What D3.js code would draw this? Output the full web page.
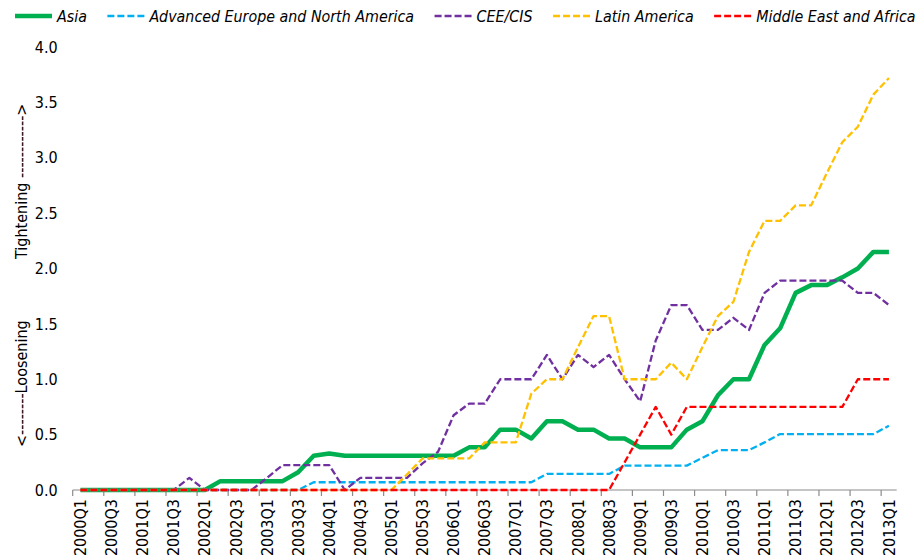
<!DOCTYPE html>
<html><head><meta charset="utf-8">
<script src="https://cdn.jsdelivr.net/npm/d3@7"></script>
<style>
body{margin:0;background:#fff}
svg{display:block}
text{font-family:"DejaVu Sans Condensed","DejaVu Sans",sans-serif;font-stretch:condensed;fill:#000}
</style>
</head><body>
<svg id="chart" width="918" height="559"></svg>
<script>
const categories = ["2000Q1","2000Q2","2000Q3","2000Q4","2001Q1","2001Q2","2001Q3","2001Q4",
"2002Q1","2002Q2","2002Q3","2002Q4","2003Q1","2003Q2","2003Q3","2003Q4",
"2004Q1","2004Q2","2004Q3","2004Q4","2005Q1","2005Q2","2005Q3","2005Q4",
"2006Q1","2006Q2","2006Q3","2006Q4","2007Q1","2007Q2","2007Q3","2007Q4",
"2008Q1","2008Q2","2008Q3","2008Q4","2009Q1","2009Q2","2009Q3","2009Q4",
"2010Q1","2010Q2","2010Q3","2010Q4","2011Q1","2011Q2","2011Q3","2011Q4",
"2012Q1","2012Q2","2012Q3","2012Q4","2013Q1"];

const asia = [0,0,0,0,0,0,0,0,0,
0.08,0.08,0.08,0.08,0.08,
0.16,0.31,0.33,
0.31,0.31,0.31,0.31,0.31,0.31,0.31,0.31,
0.385,0.385,0.545,0.545,0.465,0.62,0.62,0.545,0.545,0.465,0.465,
0.385,0.385,0.385,0.545,0.62,0.855,1.0,1.0,1.31,1.46,1.78,1.85,1.85,1.92,2.0,2.15,2.15];

const advanced = [0,0,0,0,0,0,0,0,0,0,0,0,0,0,0,
0.07,0.07,0.07,0.07,0.07,0.07,0.07,0.07,0.07,0.07,0.07,0.07,0.07,0.07,0.07,
0.145,0.145,0.145,0.145,0.145,
0.22,0.22,0.22,0.22,0.22,
0.29,0.36,0.36,0.36,0.43,
0.505,0.505,0.505,0.505,0.505,0.505,0.505,0.58];

const ceeCis = [0,0,0,0,0,0,0,0.11,0,0,0,0,0.11,
0.225,0.225,0.225,0.225,0,
0.11,0.11,0.11,0.11,
0.24,0.345,0.675,0.78,0.78,1.0,1.0,1.0,1.22,1.0,1.22,1.11,1.22,1.0,0.8,
1.35,1.67,1.67,1.445,1.445,1.555,1.445,1.78,
1.89,1.89,1.89,1.89,1.89,1.78,1.78,1.67];

const latinAmerica = [0,0,0,0,0,0,0,0,0,0,0,0,0,0,0,0,0,0,0,0,0,
0.14,0.285,0.285,0.285,0.285,0.43,0.43,0.43,
0.87,1.0,1.0,1.29,1.57,1.57,1.0,1.0,1.0,1.15,1.0,1.29,1.57,1.70,2.15,
2.43,2.43,2.57,2.57,2.86,3.14,3.28,3.57,3.72];

const middleEastAfrica = [0,0,0,0,0,0,0,0,0,0,0,0,0,0,0,0,0,0,0,0,
0,0,0,0,0,0,0,0,0,0,0,0,0,0,0,
0.25,0.5,0.75,0.5,
0.75,0.75,0.75,0.75,0.75,0.75,0.75,0.75,0.75,0.75,0.75,
1.0,1.0,1.0];

const seriesNames = ["Asia","Advanced Europe and North America","CEE/CIS","Latin America","Middle East and Africa"];
const seriesValues = [asia, advanced, ceeCis, latinAmerica, middleEastAfrica];
const seriesColors = ["#00B050","#00B0F0","#7030A0","#FFC000","#FF0000"];

const yTicks = [0,0.5,1.0,1.5,2.0,2.5,3.0,3.5,4.0];
const xTickLabels = categories.filter((d,i)=>i%2===0);
const yTitleLow = "<--------Loosening";
const yTitleHigh = "Tightening ------------>";

const styles = seriesNames.map((n,i)=> i===0 ? {w:4.5,dash:null} : {w:2.3,dash:"7,3"});

const svg = d3.select("#chart");
const x = d3.scaleBand().domain(categories).range([72.7,896.7]).paddingInner(0).paddingOuter(0);
const bw = x.bandwidth();
const cx = c => x(c) + bw/2;
const y = d3.scaleLinear().domain([0,4]).range([490,47]);

// x axis
const xa = svg.append("g");
xa.append("line").attr("x1",x.range()[0]).attr("x2",x.range()[1]).attr("y1",y(0)).attr("y2",y(0))
  .attr("stroke","#8c8c8c").attr("stroke-width",1.2);
xa.selectAll("line.tick").data(xTickLabels).join("line").attr("class","tick")
  .attr("x1",d=>x(d)).attr("x2",d=>x(d)).attr("y1",y(0)).attr("y2",y(0)+6)
  .attr("stroke","#8c8c8c").attr("stroke-width",1.2);
xa.selectAll("text").data(xTickLabels).join("text")
  .attr("transform",d=>`translate(${cx(d)},${y(0)+9}) rotate(-90)`)
  .attr("text-anchor","end").attr("dy","0.35em")
  .style("font-size","16px").text(d=>d);

// y axis
const ya = svg.append("g").attr("transform",`translate(${x.range()[0]},0)`)
  .call(d3.axisLeft(y).tickValues(yTicks).tickSize(0).tickPadding(15).tickFormat(d3.format(".1f")));
ya.select(".domain").remove();
ya.selectAll("text").style("font-size","16px").style("font-family",null);

// y titles
svg.append("text").attr("transform","translate(21,447) rotate(-90)").attr("dy","0.35em")
  .style("font-size","16px").text(yTitleLow);
svg.append("text").attr("transform","translate(21,259) rotate(-90)").attr("dy","0.35em")
  .style("font-size","16px").text(yTitleHigh);

// lines
const line = d3.line().x((d,i)=>cx(categories[i])).y(d=>y(d));
svg.append("g").selectAll("path").data(seriesValues).join("path")
  .attr("d",d=>line(d)).attr("fill","none")
  .attr("stroke",(d,i)=>seriesColors[i])
  .attr("stroke-width",(d,i)=>styles[i].w)
  .attr("stroke-dasharray",(d,i)=>styles[i].dash)
  .attr("stroke-linejoin","round");

// legend
const lg = svg.append("g");
let lx = 15;
seriesNames.forEach((n,i)=>{
  lg.append("line").attr("x1",lx).attr("x2",lx+37).attr("y1",16).attr("y2",16)
    .attr("stroke",seriesColors[i]).attr("stroke-width",i===0?4.5:2.3)
    .attr("stroke-dasharray",styles[i].dash);
  const t = lg.append("text").attr("x",lx+42).attr("y",16).attr("dy","0.35em")
    .style("font-size","15.85px").style("font-style","italic").text(n);
  lx = lx + 42 + t.node().getComputedTextLength() + 20.5;
});
</script>
</body></html>
